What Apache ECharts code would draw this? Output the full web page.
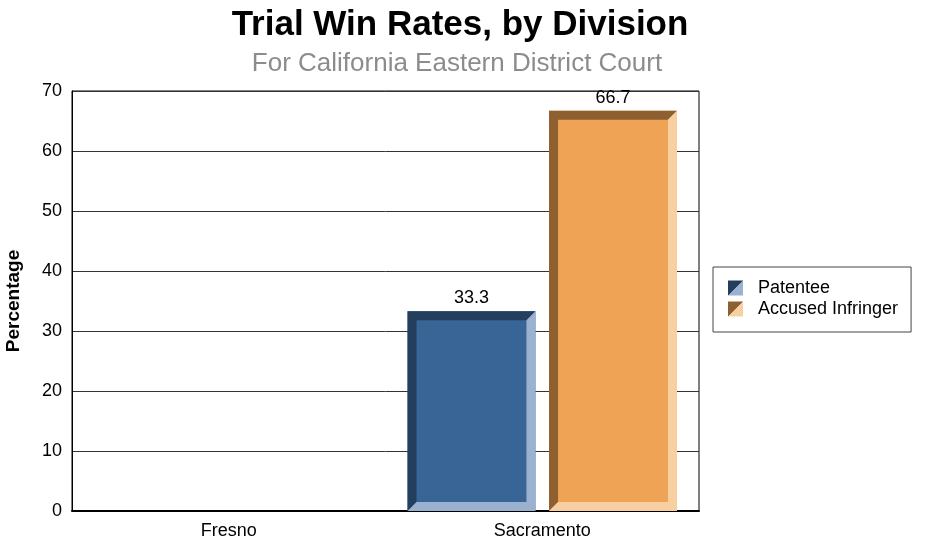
<!DOCTYPE html>
<html><head><meta charset="utf-8">
<script src="https://cdn.jsdelivr.net/npm/echarts@6/dist/echarts.min.js"></script>
<style>html,body{margin:0;padding:0;background:#fff}#c{width:927px;height:544px}</style>
</head><body><div id="c"></div>
<script>
const categories = ['Fresno', 'Sacramento'];
const patentee = [0, 33.3];
const accused = [0, 66.7];
const seriesNames = ['Patentee', 'Accused Infringer'];
const yTicks = [0, 10, 20, 30, 40, 50, 60, 70];

const palettes = [
  {dark: '#243F5E', main: '#386496', light: '#9AB1CF'},
  {dark: '#8E5F2F', main: '#EFA355', light: '#F7CFA0'}
];
const font = '"Liberation Sans", Arial, sans-serif';

function bevelRender(si) {
  return function (params, api) {
    const idx = api.value(0);
    const val = api.value(1);
    if (!val) return null;
    const c = api.coord([idx, val]);
    const base = api.coord([idx, 0]);
    const band = api.size([1, 0])[0];
    const w = band * 0.408;
    const off = band * 0.2257 * (si === 0 ? -1 : 1);
    const cx = c[0] + off;
    const x0 = cx - w / 2, x1 = cx + w / 2, y0 = c[1], y1 = base[1];
    const b = 9;
    const p = palettes[si];
    return {
      type: 'group',
      children: [
        {type: 'rect', shape: {x: x0, y: y0, width: x1 - x0, height: y1 - y0}, style: {fill: p.main}},
        {type: 'polygon', shape: {points: [[x0, y1], [x0, y0], [x1, y0], [x1 - b, y0 + b], [x0 + b, y0 + b], [x0 + b, y1 - b]]}, style: {fill: p.dark}},
        {type: 'polygon', shape: {points: [[x1, y0], [x1, y1], [x0, y1], [x0 + b, y1 - b], [x1 - b, y1 - b], [x1 - b, y0 + b]]}, style: {fill: p.light}},
        {type: 'text', x: cx, y: y0 - 4, style: {text: String(val), fill: '#000', font: '18px ' + font, align: 'center', verticalAlign: 'bottom'}}
      ]
    };
  };
}

function diag(p) {
  return {type: 'linear', x: 0, y: 0, x2: 1, y2: 1, colorStops: [
    {offset: 0, color: p.dark}, {offset: 0.5, color: p.dark},
    {offset: 0.5, color: p.light}, {offset: 1, color: p.light}]};
}

const chart = echarts.init(document.getElementById('c'));
chart.setOption({
  animation: false,
  title: [
    {text: 'Trial Win Rates, by Division', left: 455, top: 3, textAlign: 'center',
     textStyle: {fontFamily: font, fontSize: 35, fontWeight: 'bold', color: '#000'}},
    {text: 'For California Eastern District Court', left: 452, top: 46, textAlign: 'center',
     textStyle: {fontFamily: font, fontSize: 26, fontWeight: 'normal', color: '#8C8C8C'}}
  ],
  legend: {
    orient: 'vertical', left: 713, top: 267,
    padding: [12, 13, 14, 15],
    borderColor: '#444', borderWidth: 1,
    itemWidth: 15, itemHeight: 15, itemGap: 3,
    textStyle: {fontFamily: font, fontSize: 18, color: '#000', padding: [0, 0, 0, 10]},
    data: [
      {name: seriesNames[0], icon: 'rect', itemStyle: {color: diag(palettes[0])}},
      {name: seriesNames[1], icon: 'rect', itemStyle: {color: diag(palettes[1])}}
    ]
  },
  grid: {left: 72, right: 228, top: 91, bottom: 33, show: true, borderColor: '#000', borderWidth: 1,
         containLabel: false, outerBoundsMode: 'none'},
  xAxis: {
    type: 'category', data: categories,
    axisLine: {lineStyle: {color: '#000', width: 2}},
    axisTick: {show: false},
    axisLabel: {fontFamily: font, fontSize: 18, color: '#000', margin: 11}
  },
  yAxis: {
    type: 'value', min: yTicks[0], max: yTicks[yTicks.length - 1], interval: 10,
    name: 'Percentage', nameLocation: 'middle', nameGap: 49, nameRotate: 90,
    nameTextStyle: {fontFamily: font, fontSize: 19, fontWeight: 'bold', color: '#000'},
    axisLine: {show: true, lineStyle: {color: '#000', width: 1}},
    axisTick: {show: false},
    axisLabel: {fontFamily: font, fontSize: 18, color: '#000', margin: 10},
    splitLine: {lineStyle: {color: '#333', width: 1}}
  },
  series: [
    {name: seriesNames[0], type: 'custom', renderItem: bevelRender(0),
     itemStyle: {color: palettes[0].main},
     encode: {x: 0, y: 1}, data: patentee.map((v, i) => [i, v])},
    {name: seriesNames[1], type: 'custom', renderItem: bevelRender(1),
     itemStyle: {color: palettes[1].main},
     encode: {x: 0, y: 1}, data: accused.map((v, i) => [i, v])}
  ]
});
</script></body></html>
